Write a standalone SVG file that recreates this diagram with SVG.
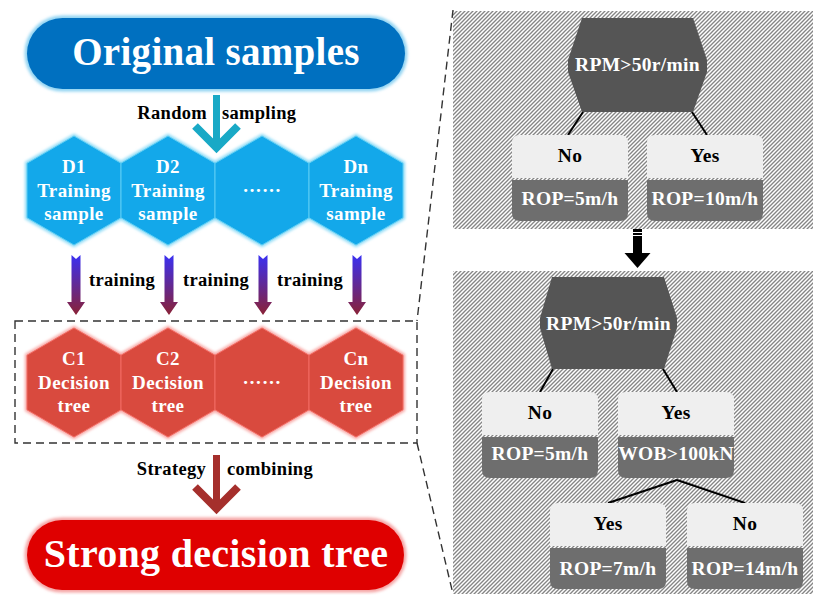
<svg xmlns="http://www.w3.org/2000/svg" width="813" height="595" viewBox="0 0 813 595">
  <defs>
    <style>
      .t { font-family: "Liberation Serif", "Times New Roman", serif; font-weight: bold; text-anchor: middle; }
      .big { font-size: 39px; fill: #ffffff; letter-spacing: 0.3px; }
      .hex { font-size: 19px; fill: #ffffff; letter-spacing: 0.4px; }
      .lbl { font-size: 19.5px; fill: #000000; letter-spacing: 0.3px; }
      .lblw { font-size: 19.5px; fill: #ffffff; letter-spacing: 0.3px; }
      .cap { font-size: 18.5px; fill: #000000; letter-spacing: 0.3px; }
      .dash { fill: none; stroke: #333333; stroke-width: 1.4; stroke-dasharray: 8 5; }
      .edge { stroke: #000000; stroke-width: 2; fill: none; }
      .leafTop { fill: #efefef; }
      .leafBot { fill: #6e6e6e; }
      .node { fill: #555555; }
    </style>
    <pattern id="hatch" patternUnits="userSpaceOnUse" width="4" height="4">
      <rect width="4" height="4" fill="#ffffff"/>
      <path d="M-1,1 L1,-1 M0,4 L4,0 M3,5 L5,3" stroke="#858585" stroke-width="1.35"/>
    </pattern>
    <linearGradient id="trainGrad" x1="0" y1="0" x2="0" y2="1">
      <stop offset="0" stop-color="#3a30f2"/>
      <stop offset="1" stop-color="#8a2236"/>
    </linearGradient>
    <filter id="soft" x="-10%" y="-10%" width="120%" height="120%">
      <feGaussianBlur stdDeviation="1.6"/>
    </filter>
    <!-- pointy-top hexagon, centred on the origin -->
    <polygon id="hexShape" points="0,-54.5 47,-27.25 47,27.25 0,54.5 -47,27.25 -47,-27.25"/>
    <!-- leaf card halves -->
    <path id="cardTop" d="M0,43 V8 Q0,0 8,0 H108 Q116,0 116,8 V43 Z"/>
    <path id="cardBot" d="M0,45 H116 V78 Q116,86 108,86 H8 Q0,86 0,78 Z"/>
    <!-- down arrow used for the training steps -->
    <path id="trainArrow" d="M-4.5,0 L0,4 L4.5,0 V47 H9 L0,60 L-9,47 H-4.5 Z"/>
  </defs>

  <rect width="813" height="595" fill="#ffffff"/>

  <!-- hatched panels holding the tree examples -->
  <rect x="453" y="11" width="360" height="218" fill="url(#hatch)"/>
  <rect x="453" y="271" width="360" height="323" fill="url(#hatch)"/>

  <!-- connectors -->
  <g id="connectors">
    <!-- random sampling arrow -->
    <g stroke="#19a9c6" fill="none">
      <line x1="216.5" y1="95" x2="216.5" y2="146" stroke-width="7"/>
      <polyline points="195,126 216.5,147.5 238,126" stroke-width="8" stroke-miterlimit="10"/>
    </g>
    <!-- training arrows -->
    <g fill="url(#trainGrad)">
      <use href="#trainArrow" x="76" y="255"/>
      <use href="#trainArrow" x="169" y="255"/>
      <use href="#trainArrow" x="263" y="255"/>
      <use href="#trainArrow" x="357" y="255"/>
    </g>
    <!-- strategy combining arrow -->
    <g stroke="#a52f2c" fill="none">
      <line x1="216.5" y1="455" x2="216.5" y2="506" stroke-width="7"/>
      <polyline points="195,487 216.5,508.5 238,487" stroke-width="8" stroke-miterlimit="10"/>
    </g>
    <!-- dashed ensemble frame and zoom lines -->
    <rect class="dash" x="15" y="321" width="402" height="122"/>
    <line class="dash" x1="453" y1="10" x2="417" y2="321"/>
    <line class="dash" x1="417" y1="443" x2="453" y2="594"/>
    <!-- arrow between the two tree examples -->
    <g id="growArrow">
      <rect x="633" y="229" width="9" height="25" fill="#000000"/>
      <rect x="633" y="232" width="9" height="1" fill="#ffffff"/>
      <rect x="633" y="235" width="9" height="1" fill="#ffffff"/>
      <polygon points="624.5,253 650.5,253 637.5,268" fill="#000000"/>
    </g>
    <!-- tree branches -->
    <path class="edge" d="M583,112 L568,135 M692,112 L707,135"/>
    <path class="edge" d="M553,369 L540,392 M663,369 L677,392"/>
    <path class="edge" d="M677,480 L608,503 M677,480 L745,503"/>
  </g>

  <!-- top pill -->
  <g id="original-samples">
    <rect x="27" y="18" width="378" height="71" rx="35.5" fill="none" stroke="#8fd3f2" stroke-width="5" filter="url(#soft)"/>
    <rect x="27" y="18" width="378" height="71" rx="35.5" fill="#0070c0"/>
    <text class="t big" x="216" y="65">Original samples</text>
  </g>
  <text class="t cap" x="207" y="119" style="text-anchor:end">Random</text>
  <text class="t cap" x="222" y="119" style="text-anchor:start">sampling</text>

  <!-- training samples -->
  <g id="samples">
    <g fill="none" stroke="#8adaf6" stroke-width="4" filter="url(#soft)">
      <use href="#hexShape" x="74" y="190.5"/>
      <use href="#hexShape" x="168" y="190.5"/>
      <use href="#hexShape" x="262" y="190.5"/>
      <use href="#hexShape" x="356" y="190.5"/>
    </g>
    <g id="sample-d1">
      <use href="#hexShape" x="74" y="190.5" fill="#13a8ea" stroke="#5ccdf4" stroke-width="1"/>
      <text class="t hex" x="74" y="173">D1</text>
      <text class="t hex" x="74" y="197">Training</text>
      <text class="t hex" x="74" y="220">sample</text>
    </g>
    <g id="sample-d2">
      <use href="#hexShape" x="168" y="190.5" fill="#13a8ea" stroke="#5ccdf4" stroke-width="1"/>
      <text class="t hex" x="168" y="173">D2</text>
      <text class="t hex" x="168" y="197">Training</text>
      <text class="t hex" x="168" y="220">sample</text>
    </g>
    <g id="sample-dots">
      <use href="#hexShape" x="262" y="190.5" fill="#13a8ea" stroke="#5ccdf4" stroke-width="1"/>
      <text class="t hex" x="262" y="192">……</text>
    </g>
    <g id="sample-dn">
      <use href="#hexShape" x="356" y="190.5" fill="#13a8ea" stroke="#5ccdf4" stroke-width="1"/>
      <text class="t hex" x="356" y="173">Dn</text>
      <text class="t hex" x="356" y="197">Training</text>
      <text class="t hex" x="356" y="220">sample</text>
    </g>
  </g>

  <text class="t cap" x="122" y="286">training</text>
  <text class="t cap" x="216" y="286">training</text>
  <text class="t cap" x="310" y="286">training</text>

  <!-- decision trees -->
  <g id="trees">
    <g fill="none" stroke="#f7a3a0" stroke-width="4" filter="url(#soft)">
      <use href="#hexShape" x="74" y="382.5"/>
      <use href="#hexShape" x="168" y="382.5"/>
      <use href="#hexShape" x="262" y="382.5"/>
      <use href="#hexShape" x="356" y="382.5"/>
    </g>
    <g id="tree-c1">
      <use href="#hexShape" x="74" y="382.5" fill="#d94a3e" stroke="#f26a62" stroke-width="1"/>
      <text class="t hex" x="74" y="365">C1</text>
      <text class="t hex" x="74" y="389">Decision</text>
      <text class="t hex" x="74" y="412">tree</text>
    </g>
    <g id="tree-c2">
      <use href="#hexShape" x="168" y="382.5" fill="#d94a3e" stroke="#f26a62" stroke-width="1"/>
      <text class="t hex" x="168" y="365">C2</text>
      <text class="t hex" x="168" y="389">Decision</text>
      <text class="t hex" x="168" y="412">tree</text>
    </g>
    <g id="tree-dots">
      <use href="#hexShape" x="262" y="382.5" fill="#d94a3e" stroke="#f26a62" stroke-width="1"/>
      <text class="t hex" x="262" y="384">……</text>
    </g>
    <g id="tree-cn">
      <use href="#hexShape" x="356" y="382.5" fill="#d94a3e" stroke="#f26a62" stroke-width="1"/>
      <text class="t hex" x="356" y="365">Cn</text>
      <text class="t hex" x="356" y="389">Decision</text>
      <text class="t hex" x="356" y="412">tree</text>
    </g>
  </g>

  <text class="t cap" x="206" y="475" style="text-anchor:end">Strategy</text>
  <text class="t cap" x="227" y="475" style="text-anchor:start">combining</text>

  <!-- bottom pill -->
  <g id="strong-tree">
    <rect x="27" y="520" width="377" height="70" rx="35" fill="none" stroke="#f5a3a3" stroke-width="5" filter="url(#soft)"/>
    <rect x="27" y="520" width="377" height="70" rx="35" fill="#df0000"/>
    <text class="t big" x="216" y="567" style="font-size:40px">Strong decision tree</text>
  </g>

  <!-- first tree example -->
  <g id="split-1">
    <polygon class="node" points="582,18 693,18 707,60 707,72 693,112 582,112 568,72 568,60"/>
    <text class="t lblw" x="637.5" y="71">RPM&gt;50r/min</text>
  </g>
  <g id="leaf-1-no" transform="translate(512,135)">
    <use href="#cardTop" class="leafTop"/>
    <use href="#cardBot" class="leafBot"/>
    <text class="t lbl" x="58" y="27">No</text>
    <text class="t lblw" x="58" y="70">ROP=5m/h</text>
  </g>
  <g id="leaf-1-yes" transform="translate(647,135)">
    <use href="#cardTop" class="leafTop"/>
    <use href="#cardBot" class="leafBot"/>
    <text class="t lbl" x="58" y="27">Yes</text>
    <text class="t lblw" x="58" y="70">ROP=10m/h</text>
  </g>

  <!-- grown tree example -->
  <g id="split-2">
    <polygon class="node" points="552,277 664,277 677,318 677,328 664,369 552,369 540,328 540,318"/>
    <text class="t lblw" x="608.5" y="330">RPM&gt;50r/min</text>
  </g>
  <g id="leaf-2-no" transform="translate(482,392)">
    <use href="#cardTop" class="leafTop"/>
    <use href="#cardBot" class="leafBot"/>
    <text class="t lbl" x="58" y="27">No</text>
    <text class="t lblw" x="58" y="68">ROP=5m/h</text>
  </g>
  <g id="node-2-yes" transform="translate(618,392)">
    <use href="#cardTop" class="leafTop"/>
    <use href="#cardBot" class="leafBot"/>
    <text class="t lbl" x="58" y="27">Yes</text>
    <text class="t lblw" x="58" y="68">WOB&gt;100kN</text>
  </g>
  <g id="leaf-3-yes" transform="translate(550,503)">
    <use href="#cardTop" class="leafTop"/>
    <use href="#cardBot" class="leafBot"/>
    <text class="t lbl" x="58" y="27">Yes</text>
    <text class="t lblw" x="58" y="72">ROP=7m/h</text>
  </g>
  <g id="leaf-3-no" transform="translate(687,503)">
    <use href="#cardTop" class="leafTop"/>
    <use href="#cardBot" class="leafBot"/>
    <text class="t lbl" x="58" y="27">No</text>
    <text class="t lblw" x="58" y="72">ROP=14m/h</text>
  </g>
</svg>
